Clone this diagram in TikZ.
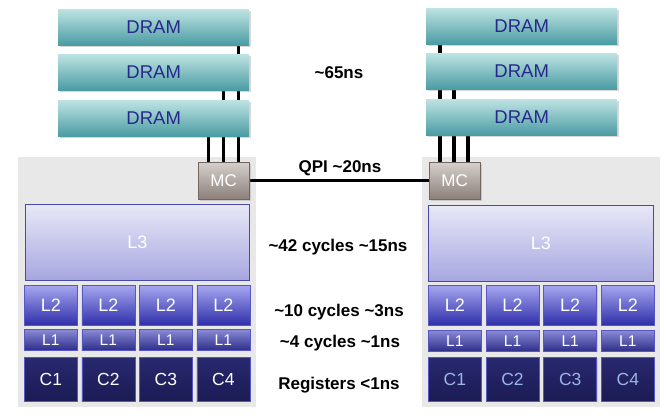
\documentclass[tikz,border=0pt]{standalone}
\usepackage{fontspec}
\setmainfont{Liberation Sans}
\usetikzlibrary{shadows}
\pgfdeclarelayer{bglayer}
\pgfdeclarelayer{buslayer}
\pgfsetlayers{bglayer,buslayer,main}
\definecolor{dramtop}{HTML}{BEE3E3}
\definecolor{drambot}{HTML}{4A9CA3}
\definecolor{dramtxt}{HTML}{28288A}
\definecolor{panel}{HTML}{E8E8E8}
\definecolor{mctop}{HTML}{D6CFCB}
\definecolor{mcbot}{HTML}{8C807A}
\definecolor{lthree}{HTML}{E8E8F8}
\definecolor{lthreeb}{HTML}{A6A6E0}
\definecolor{ltwot}{HTML}{A6A6F0}
\definecolor{ltwob}{HTML}{2E2EAA}
\definecolor{lonet}{HTML}{8A8AD6}
\definecolor{loneb}{HTML}{2E2E8A}
\definecolor{coret}{HTML}{28286F}
\definecolor{coreb}{HTML}{1B1B55}
\definecolor{cbord}{HTML}{5656C4}
\definecolor{cright}{HTML}{9AB6E2}
\tikzset{
  box/.style={rectangle, inner sep=0pt, anchor=north west},
  dram/.style={box, top color=dramtop, bottom color=drambot, draw=none,
    minimum width=191pt, minimum height=36pt, text=dramtxt,
    font=\fontsize{18.5}{18.5}\selectfont,
    drop shadow={shadow xshift=1.5pt, shadow yshift=-1.5pt, opacity=0.3}},
  pnl/.style={box, fill=panel, draw=none, minimum width=238pt, minimum height=250pt},
  mcbox/.style={box, top color=mctop, bottom color=mcbot, draw=mcbot!80!black, line width=0.4pt,
    minimum width=51pt, minimum height=37pt, text=white, font=\fontsize{17}{17}\selectfont,
    drop shadow={shadow xshift=1.5pt, shadow yshift=-1.5pt, opacity=0.3}},
  lthreebox/.style={box, top color=lthree, bottom color=lthreeb, draw=cbord!85!black, line width=0.8pt,
    minimum height=76pt, text=white, font=\fontsize{18}{18}\selectfont},
  ltwobox/.style={box, top color=ltwot, bottom color=ltwob, draw=cbord, line width=0.6pt,
    minimum width=53pt, minimum height=40pt, text=white, font=\fontsize{18}{18}\selectfont,
    drop shadow={shadow xshift=1pt, shadow yshift=-1pt, opacity=0.25}},
  lonebox/.style={box, top color=lonet, bottom color=loneb, draw=cbord, line width=0.6pt,
    minimum width=53pt, minimum height=21pt, text=white, font=\fontsize{15.5}{15.5}\selectfont,
    drop shadow={shadow xshift=1pt, shadow yshift=-1pt, opacity=0.25}},
  corebox/.style={box, top color=coret, bottom color=coreb, draw=cbord, line width=0.6pt,
    minimum width=53pt, minimum height=44pt, text=white, font=\fontsize{17.5}{17.5}\selectfont,
    drop shadow={shadow xshift=1pt, shadow yshift=-1pt, opacity=0.25}},
  bus/.style={line width=3.5pt, black},
  qpi/.style={line width=3pt, black},
  lbl/.style={font=\bfseries\fontsize{17}{17}\selectfont, inner sep=0pt}
}
\begin{document}
\begin{tikzpicture}[x=1pt, y=-1pt]
\useasboundingbox (0,0) rectangle (666,415);
\begin{pgfonlayer}{bglayer}
\fill[white] (0,0) rectangle (666,415);
\node[pnl] (pl) at (18,157) {};
\node[pnl] (pr) at (422,157) {};
\end{pgfonlayer}
% DRAM left
\node[dram] (dl1) at (58,9) {DRAM};
\node[dram] (dl2) at (58,54) {DRAM};
\node[dram] (dl3) at (58,100) {DRAM};
% DRAM right
\node[dram] (dr1) at (426,8) {DRAM};
\node[dram] (dr2) at (426,53) {DRAM};
\node[dram] (dr3) at (426,99) {DRAM};
% MC
\node[mcbox] (mcl) at (198,162) {MC};
\node[mcbox] (mcr) at (429,162) {MC};
% buses
\begin{pgfonlayer}{buslayer}
\draw[bus] ([xshift=-11pt]dl1.south east) -- ([xshift=-11pt]dl1.south east |- mcl.north);
\draw[bus] ([xshift=-26pt]dl2.south east) -- ([xshift=-26pt]dl2.south east |- mcl.north);
\draw[bus] ([xshift=-41pt]dl3.south east) -- ([xshift=-41pt]dl3.south east |- mcl.north);
\draw[bus] ([xshift=14pt]dr1.south west) -- ([xshift=14pt]dr1.south west |- mcr.north);
\draw[bus] ([xshift=28pt]dr2.south west) -- ([xshift=28pt]dr2.south west |- mcr.north);
\draw[bus] ([xshift=42pt]dr3.south west) -- ([xshift=42pt]dr3.south west |- mcr.north);
\draw[qpi] (mcl.east) -- (mcr.west);
\end{pgfonlayer}
% L3
\node[lthreebox, minimum width=224pt] (l3l) at (25,204) {L3};
\node[lthreebox, minimum width=225pt] (l3r) at (428,205) {L3};
% left L2 / L1 / cores
\foreach \i/\x in {1/24,2/81.5,3/139,4/196.5}{
  \node[ltwobox] (l2l\i) at (\x,285) {L2};
  \node[lonebox] (l1l\i) at (\x,329) {L1};
  \node[corebox] (cl\i) at (\x,357) {C\i};
}
\foreach \i/\x in {1/428,2/485.7,3/543.4,4/601}{
  \node[ltwobox] (l2r\i) at (\x,285) {L2};
  \node[lonebox] (l1r\i) at (\x,330) {L1};
  \node[corebox, text=cright] (cr\i) at (\x,357) {C\i};
}
% labels
\node[lbl] (t65) at (339,73) {\textasciitilde 65ns};
\node[lbl] (tqpi) at (340,168) {QPI \textasciitilde 20ns};
\node[lbl] (t42) at (338,247) {\textasciitilde 42 cycles \textasciitilde 15ns};
\node[lbl] (t10) at (339,312) {\textasciitilde 10 cycles \textasciitilde 3ns};
\node[lbl] (t4) at (340,343) {\textasciitilde 4 cycles \textasciitilde 1ns};
\node[lbl] (treg) at (339,385) {Registers <1ns};
\end{tikzpicture}
\end{document}
